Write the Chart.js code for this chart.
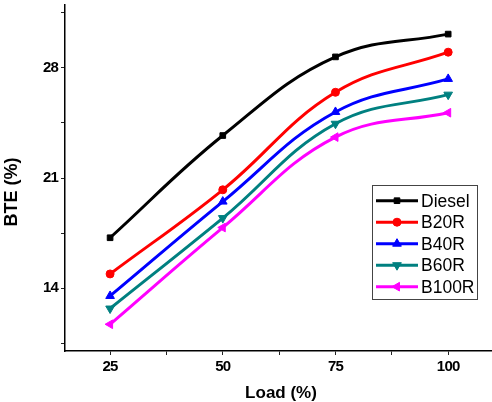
<!DOCTYPE html>
<html><head><meta charset="utf-8">
<script src="https://cdn.jsdelivr.net/npm/chart.js@4.4.0/dist/chart.umd.min.js"></script>
<style>html,body{margin:0;padding:0;background:#fff;overflow:hidden}#wrap{width:492px;height:402px;position:relative}</style>
</head><body><div id="wrap"><canvas id="c" width="492" height="402"></canvas></div>
<script>
const loads = [25, 50, 75, 100];
const diesel = [17.2, 23.7, 28.7, 30.15];
const b20r = [14.9, 20.25, 26.45, 29.0];
const b40r = [13.5, 19.5, 25.2, 27.3];
const b60r = [12.7, 18.45, 24.45, 26.3];
const b100r = [11.7, 17.85, 23.6, 25.15];
const seriesNames = ['Diesel', 'B20R', 'B40R', 'B60R', 'B100R'];
const yMajor = [14, 21, 28];
const yMinor = [10.5, 17.5, 24.5, 31.5];
const xMajor = [25, 50, 75, 100];
const xMinor = [37.5, 62.5, 87.5];
const xTitle = 'Load (%)';
const yTitle = 'BTE (%)';

const colors = ['#000000', '#ff0000', '#0000ff', '#008080', '#ff00ff'];
const styles = [
  {pointStyle: 'rect', rotation: 0, radius: 4},
  {pointStyle: 'circle', rotation: 0, radius: 4},
  {pointStyle: 'triangle', rotation: 0, radius: 5},
  {pointStyle: 'triangle', rotation: 180, radius: 5},
  {pointStyle: 'triangle', rotation: -90, radius: 5}
];
const values = [diesel, b20r, b40r, b60r, b100r];

const datasets = values.map((vals, i) => ({
  label: seriesNames[i],
  data: loads.map((x, j) => ({x: x, y: vals[j]})),
  borderColor: colors[i],
  backgroundColor: colors[i],
  borderWidth: 3,
  pointStyle: styles[i].pointStyle,
  rotation: styles[i].rotation,
  pointRadius: styles[i].radius,
  pointBorderWidth: 1,
  pointBackgroundColor: colors[i],
  pointBorderColor: colors[i],
  tension: 0.4,
  fill: false
}));

const F = '"Liberation Sans", Arial, sans-serif';

const legendPlugin = {
  id: 'customLegend',
  beforeDraw(chart) {
    chart.ctx.letterSpacing = '-0.8px';
  },
  afterDraw(chart) {
    const ctx = chart.ctx;
    ctx.letterSpacing = '0px';
    ctx.save();
    ctx.fillStyle = '#000';
    ctx.font = 'bold 17px ' + F;
    ctx.textAlign = 'center';
    ctx.textBaseline = 'middle';
    ctx.fillText(xTitle, 281, 393);
    ctx.save();
    ctx.translate(12, 192);
    ctx.rotate(-Math.PI / 2);
    ctx.font = 'bold 18px ' + F;
    ctx.fillText(yTitle, 0, 0);
    ctx.restore();
    const bx = 372.5, by = 185.5, bw = 105, bh = 114;
    ctx.fillStyle = '#fff';
    ctx.fillRect(bx, by, bw, bh);
    ctx.strokeStyle = '#444';
    ctx.lineWidth = 1;
    ctx.strokeRect(bx, by, bw, bh);
    chart.data.datasets.forEach((ds, i) => {
      const y = 200.7 + i * 21.5;
      ctx.strokeStyle = ds.borderColor;
      ctx.lineWidth = 3;
      ctx.beginPath();
      ctx.moveTo(376, y);
      ctx.lineTo(418, y);
      ctx.stroke();
      ctx.fillStyle = ds.borderColor;
      ctx.lineWidth = 1;
      Chart.helpers.drawPoint(ctx, {pointStyle: ds.pointStyle, rotation: ds.rotation, radius: ds.pointRadius, borderWidth: 1}, 397, y);
      ctx.fillStyle = '#000';
      ctx.font = '17.5px ' + F;
      ctx.textAlign = 'left';
      ctx.textBaseline = 'middle';
      ctx.fillText(ds.label, 421, y + 1);
    });
    ctx.restore();
  }
};

function zeroPad(scale) {
  scale.paddingTop = 0; scale.paddingBottom = 0;
  scale.paddingLeft = 0; scale.paddingRight = 0;
}

new Chart(document.getElementById('c'), {
  type: 'line',
  data: {datasets: datasets},
  options: {
    responsive: false,
    animation: false,
    events: [],
    layout: {autoPadding: false, padding: {left: 0, top: 5, right: 1, bottom: 0}},
    plugins: {legend: {display: false}, tooltip: {enabled: false}},
    scales: {
      x: {
        type: 'linear',
        min: 15, max: 109.5,
        afterBuildTicks(scale) {
          scale.ticks = xMajor.concat(xMinor).sort((a, b) => a - b).map(v => ({value: v}));
        },
        afterFit(scale) { scale.height = 51; zeroPad(scale); },
        ticks: {
          autoSkip: false,
          maxRotation: 0,
          padding: 3,
          color: '#000',
          font: {family: F, size: 15, weight: 'bold'},
          callback: (v) => xMajor.includes(v) ? String(v) : ''
        },
        grid: {display: true, drawOnChartArea: false, drawTicks: true, tickLength: 4, color: '#222', lineWidth: 1},
        border: {display: true, color: '#000', width: 1.5}
      },
      y: {
        type: 'linear',
        min: 10, max: 32,
        afterBuildTicks(scale) {
          scale.ticks = yMajor.concat(yMinor).sort((a, b) => a - b).map(v => ({value: v}));
        },
        afterFit(scale) { scale.width = 65; zeroPad(scale); },
        ticks: {
          autoSkip: false,
          padding: 3,
          color: '#000',
          font: {family: F, size: 15, weight: 'bold'},
          callback: (v) => yMajor.includes(v) ? String(v) : ''
        },
        grid: {display: true, drawOnChartArea: false, drawTicks: true, tickLength: 4, color: '#222', lineWidth: 1},
        border: {display: true, color: '#000', width: 1.5}
      }
    }
  },
  plugins: [legendPlugin]
});
</script>
</body></html>
